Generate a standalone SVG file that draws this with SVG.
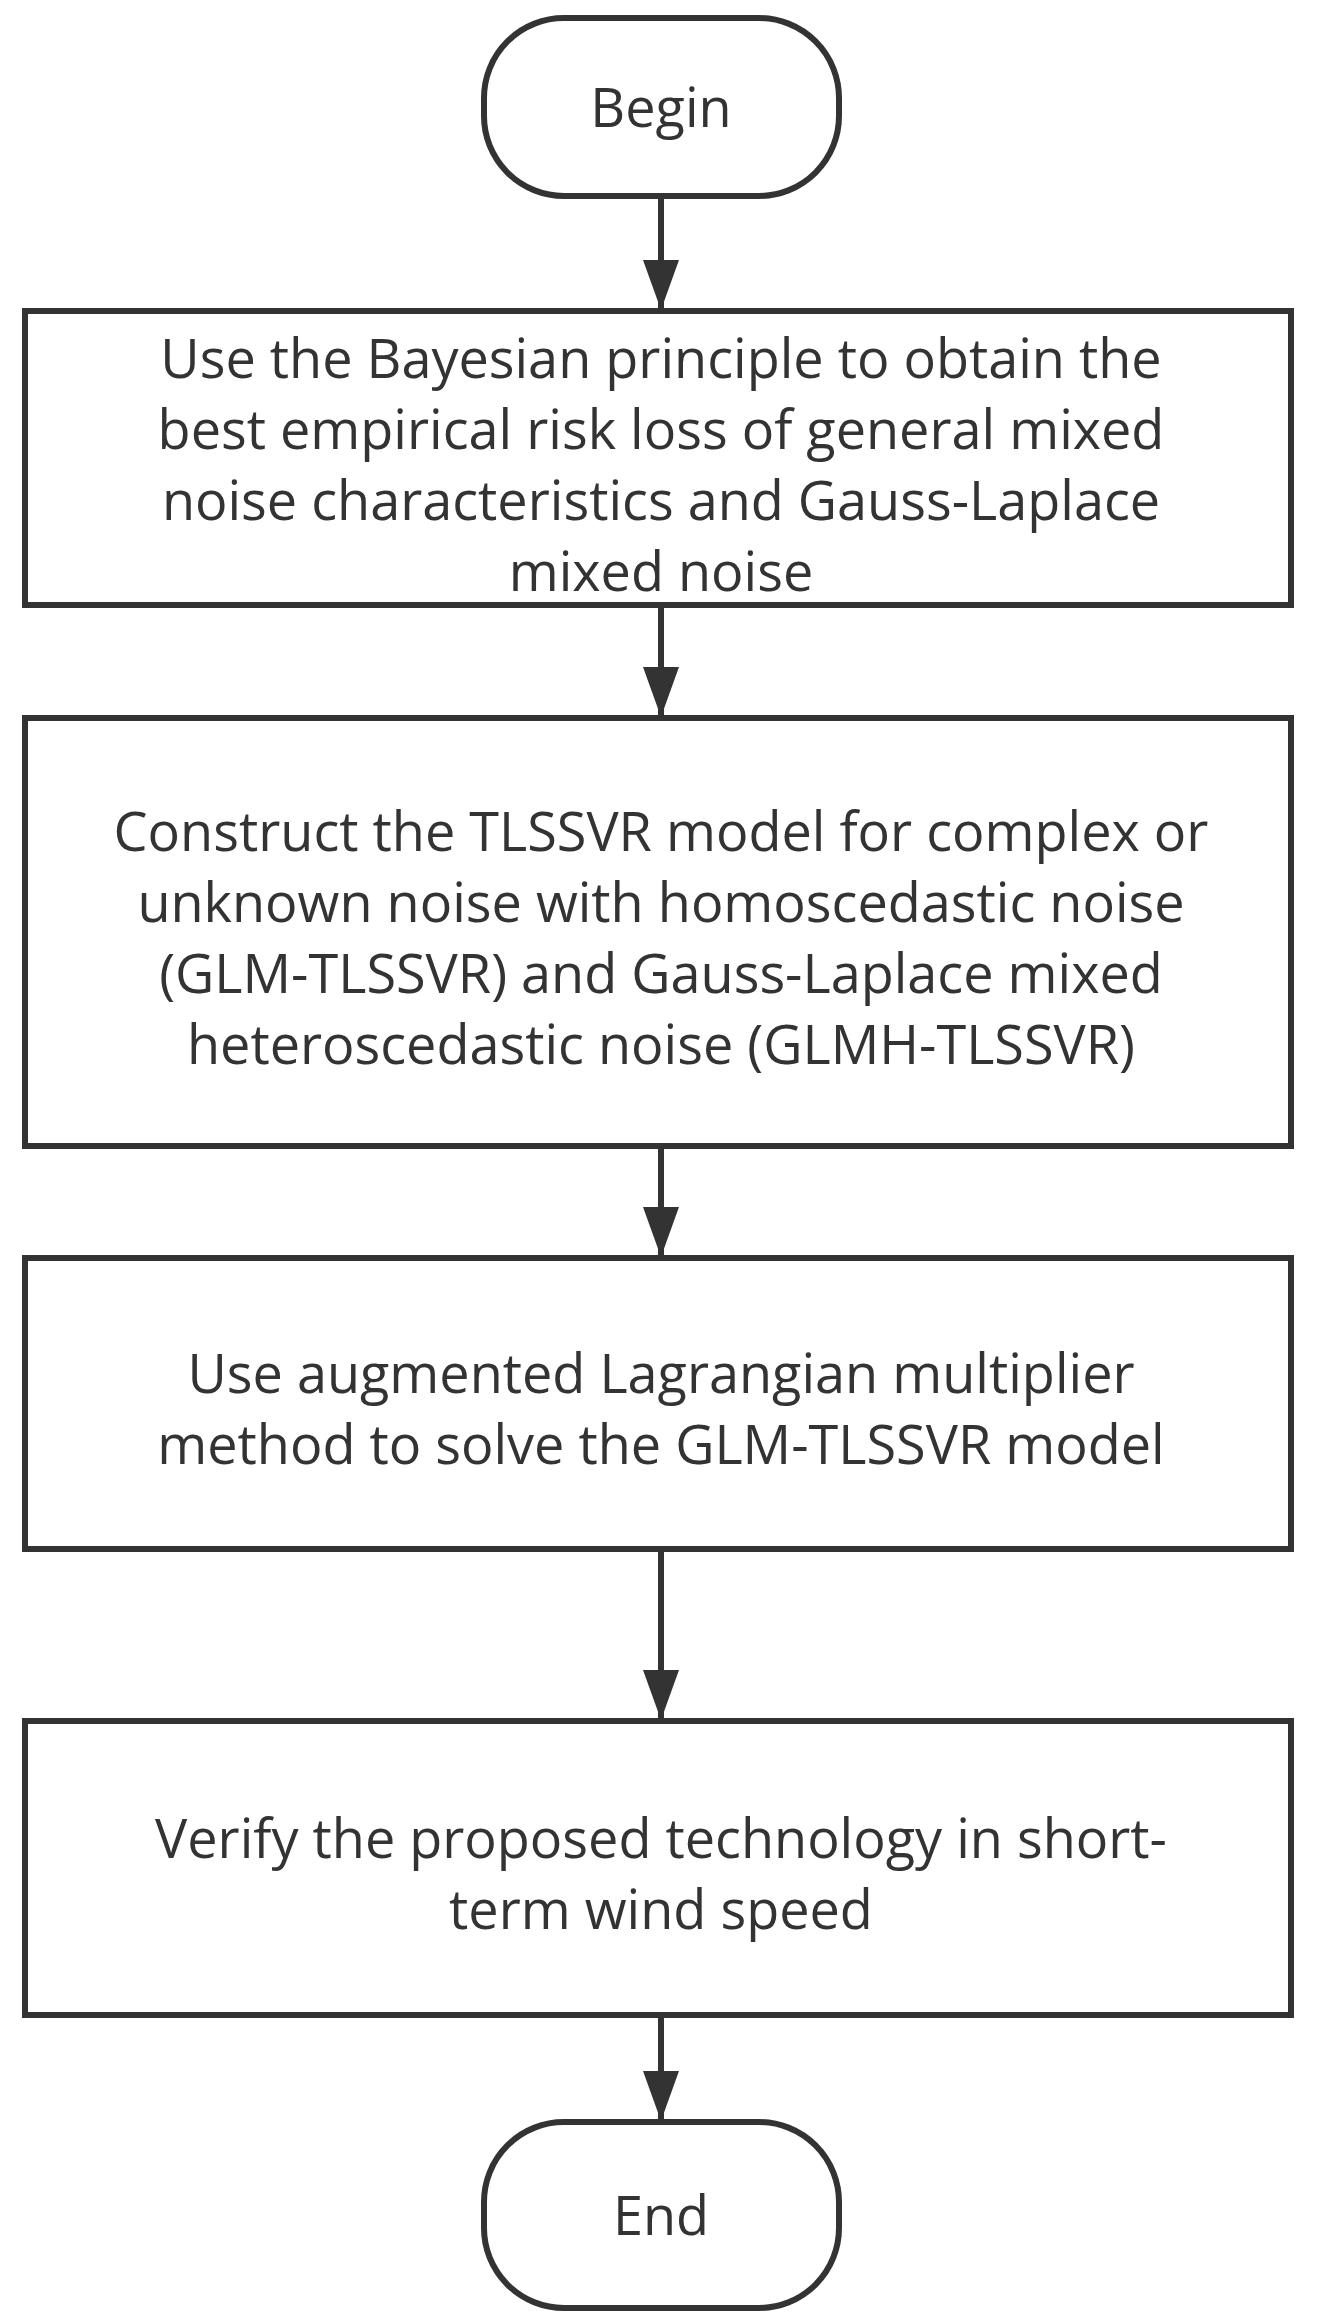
<svg xmlns="http://www.w3.org/2000/svg" width="1321" height="2313" viewBox="0 0 1321 2313">
<defs>
<style>
.n{fill:#fff;stroke:#333;stroke-width:6}
.t{font-family:"Open Sans","Liberation Sans",sans-serif;font-size:54px;fill:#333;text-anchor:middle}
.c{stroke:#333;stroke-width:6;fill:none}
</style>
</defs>
<rect width="1321" height="2313" fill="#fff"/>
<g id="connectors">
<line class="c" x1="661" y1="196" x2="661" y2="310"/>
<path d="M643,260 L679,260 L661,310 Z" fill="#333"/>
<line class="c" x1="661" y1="605" x2="661" y2="717"/>
<path d="M643,667 L679,667 L661,717 Z" fill="#333"/>
<line class="c" x1="661" y1="1146" x2="661" y2="1257"/>
<path d="M643,1207 L679,1207 L661,1257 Z" fill="#333"/>
<line class="c" x1="661" y1="1549" x2="661" y2="1720"/>
<path d="M643,1670 L679,1670 L661,1720 Z" fill="#333"/>
<line class="c" x1="661" y1="2015" x2="661" y2="2121"/>
<path d="M643,2071 L679,2071 L661,2121 Z" fill="#333"/>
</g>
<g id="begin"><rect class="n" x="484" y="18" width="355" height="178" rx="80" ry="80"/><text class="t" x="661" y="127">Begin</text></g>
<g id="step1"><rect class="n" x="25" y="311" width="1266" height="294"/>
<text class="t" x="661" y="378">Use the Bayesian principle to obtain the</text>
<text class="t" x="661" y="449">best empirical risk loss of general mixed</text>
<text class="t" x="661" y="520">noise characteristics and Gauss-Laplace</text>
<text class="t" x="661" y="591">mixed noise</text></g>
<g id="step2"><rect class="n" x="25" y="718" width="1266" height="428"/>
<text class="t" x="661" y="851">Construct the TLSSVR model for complex or</text>
<text class="t" x="661" y="922">unknown noise with homoscedastic noise</text>
<text class="t" x="661" y="993">(GLM-TLSSVR) and Gauss-Laplace mixed</text>
<text class="t" x="661" y="1064">heteroscedastic noise (GLMH-TLSSVR)</text></g>
<g id="step3"><rect class="n" x="25" y="1258" width="1266" height="291"/>
<text class="t" x="661" y="1393">Use augmented Lagrangian multiplier</text>
<text class="t" x="661" y="1464">method to solve the GLM-TLSSVR model</text></g>
<g id="step4"><rect class="n" x="25" y="1721" width="1266" height="294"/>
<text class="t" x="661" y="1858">Verify the proposed technology in short-</text>
<text class="t" x="661" y="1929">term wind speed</text></g>
<g id="end"><rect class="n" x="484" y="2122" width="355" height="186" rx="80" ry="80"/><text class="t" x="661" y="2235">End</text></g>
</svg>
